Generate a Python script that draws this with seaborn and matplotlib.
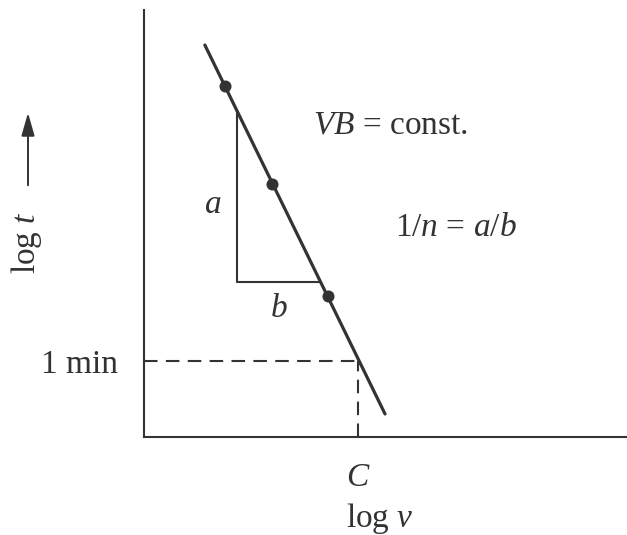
import matplotlib
matplotlib.use("Agg")
import matplotlib.pyplot as plt
import seaborn as sns
import pandas as pd

sns.set_theme(style="white")
plt.rcParams["font.family"] = ["Liberation Serif", "DejaVu Serif"]
plt.rcParams["mathtext.fontset"] = "custom"
plt.rcParams["mathtext.rm"] = "Liberation Serif"
plt.rcParams["mathtext.it"] = "Liberation Serif:italic"

INK = "#333333"

# Tool-life measurements (log cutting speed vs log tool life)
log_v_points = [1.68, 2.65, 3.81]
log_t_points = [8.22, 5.93, 3.30]

# Fitted straight line through the measurements
log_v_line = [1.26, 4.99]
log_t_line = [9.18, 0.54]

# Slope triangle corners (vertical leg a, horizontal leg b)
tri_v = [1.925, 1.925, 3.655]
tri_t = [7.64, 3.63, 3.63]

# Speed C giving a tool life of 1 min
c_speed = 4.43
one_min = 1.78

points = pd.DataFrame({"log_v": log_v_points, "log_t": log_t_points})
line = pd.DataFrame({"log_v": log_v_line, "log_t": log_t_line})
tri = pd.DataFrame({"log_v": tri_v, "log_t": tri_t})

fig = plt.figure(figsize=(6.27, 5.35), dpi=100)
W, H = 627, 535
ax = fig.add_axes([144 / W, (H - 437) / H, (627 - 144) / W, (437 - 10) / H])

sns.lineplot(data=line, x="log_v", y="log_t", ax=ax, color=INK, lw=2.3,
             sort=False, estimator=None)
sns.lineplot(data=tri, x="log_v", y="log_t", ax=ax, color=INK, lw=1.5,
             sort=False, estimator=None)
sns.scatterplot(data=points, x="log_v", y="log_t", ax=ax, color=INK, s=75,
                edgecolor=INK, linewidth=0, zorder=5)

# Dashed guides to the 1-min life and the speed C
dash = (0, (6.5, 4))
ax.plot([0, c_speed], [one_min, one_min], color=INK, lw=1.5, linestyle=dash)
ax.plot([c_speed, c_speed], [0, one_min], color=INK, lw=1.5, linestyle=dash)

ax.set_xlim(0, 10)
ax.set_ylim(0, 10)
for side in ("top", "right"):
    ax.spines[side].set_visible(False)
for side in ("left", "bottom"):
    ax.spines[side].set_color(INK)
    ax.spines[side].set_linewidth(1.5)

fs = 24
ax.set_xticks([c_speed])
ax.set_xticklabels(["$C$"])
ax.set_yticks([one_min])
ax.set_yticklabels(["1 min"])
ax.tick_params(axis="both", length=0, labelsize=fs, colors=INK)
ax.tick_params(axis="x", pad=18)
ax.tick_params(axis="y", pad=19)
ax.set_xlabel("")
ax.set_ylabel("")

ax.text(1.42, 5.45, "$a$", fontsize=fs, color=INK, ha="center", va="center")
ax.text(2.8, 3.0, "$b$", fontsize=fs, color=INK, ha="center", va="center")
ax.text(3.49, 7.3, "$VB$ = const.", fontsize=fs, color=INK, ha="left", va="center")
ax.text(5.2, 4.9, "1/$n$ = $a$/$b$", fontsize=fs, color=INK, ha="left", va="center")

fig.text(380 / W, 1 - 518 / H, "log $v$", fontsize=fs, color=INK,
         ha="center", va="center")
fig.text(26 / W, 1 - 243 / H, "log $t$", fontsize=fs, color=INK,
         ha="center", va="center", rotation=90)
fig.add_artist(matplotlib.patches.FancyArrowPatch(
    (28 / W, 1 - 188 / H), (28 / W, 1 - 110 / H),
    transform=fig.transFigure, arrowstyle="-|>,head_length=7,head_width=2",
    color=INK, lw=1.4, mutation_scale=2))

fig.savefig("out.png", dpi=100, facecolor="white")
